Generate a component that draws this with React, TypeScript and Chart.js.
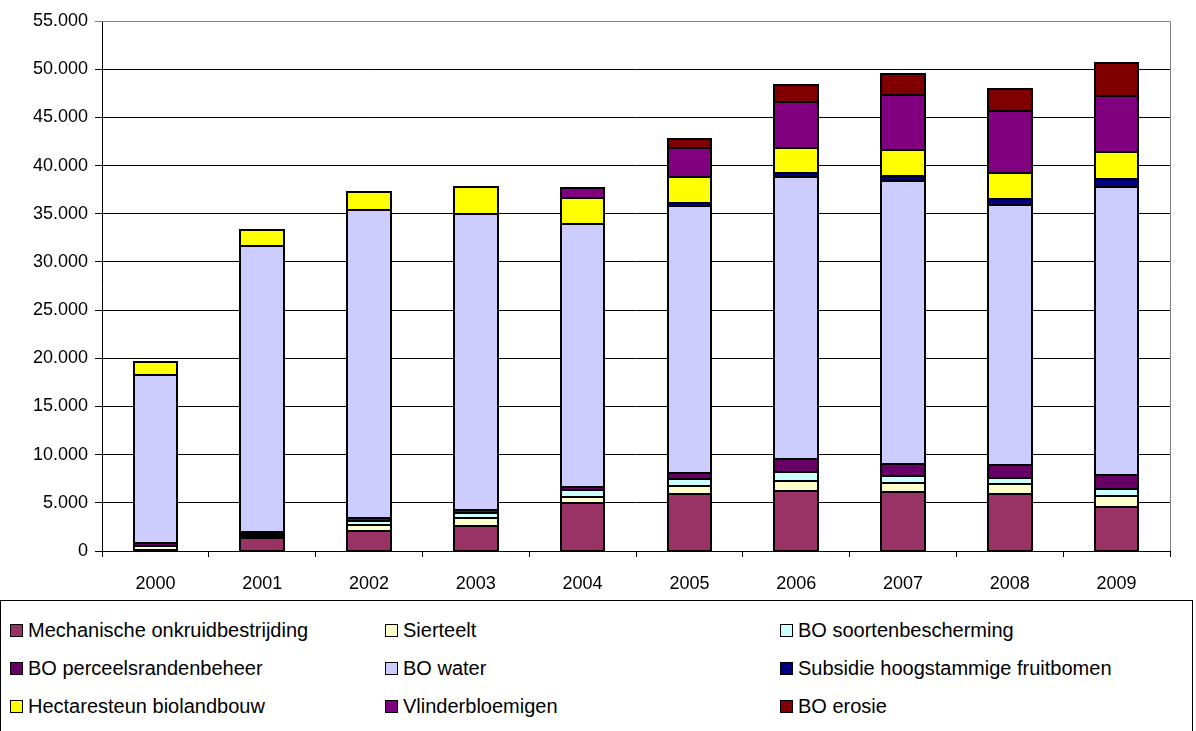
import React, { useEffect, useRef } from "react";
import { Chart, registerables } from "chart.js";

Chart.register(...registerables);

const categories = ["2000", "2001", "2002", "2003", "2004", "2005", "2006", "2007", "2008", "2009"];

const mechanisch = [150, 1300, 2070, 2630, 4950, 5920, 6230, 6090, 5920, 4600];
const sierteelt = [350, 250, 680, 830, 690, 830, 1030, 970, 1000, 1110];
const soortenbescherming = [50, 200, 360, 450, 690, 720, 970, 690, 690, 760];
const perceelsranden = [250, 250, 280, 340, 340, 620, 1280, 1280, 1310, 1450];
const boWater = [17460, 29650, 32000, 30690, 27270, 27750, 29270, 29370, 27020, 29890];
const hoogstam = [0, 0, 0, 0, 0, 310, 450, 550, 590, 790];
const biolandbouw = [1320, 1660, 1870, 2870, 2730, 2700, 2630, 2670, 2700, 2770];
const vlinderbloemigen = [0, 0, 0, 0, 1030, 2940, 4740, 5700, 6440, 5880];
const erosie = [0, 0, 0, 0, 0, 1000, 1760, 2180, 2280, 3390];

const seriesNames = [
  "Mechanische onkruidbestrijding",
  "Sierteelt",
  "BO soortenbescherming",
  "BO perceelsrandenbeheer",
  "BO water",
  "Subsidie hoogstammige fruitbomen",
  "Hectaresteun biolandbouw",
  "Vlinderbloemigen",
  "BO erosie",
];
const seriesValues = [mechanisch, sierteelt, soortenbescherming, perceelsranden, boWater, hoogstam, biolandbouw, vlinderbloemigen, erosie];
const seriesColors = ["#993366", "#FFFFCC", "#CCFFFF", "#660066", "#CCCCFF", "#000080", "#FFFF00", "#800080", "#800000"];

const yTicksMax = 55000;
const yStep = 5000;

const FONT = "'Liberation Sans', Arial, sans-serif";

function fmt(v: number): string {
  return String(v).replace(/\B(?=(\d{3})+(?!\d))/g, ".");
}

const borderPlugin = {
  id: "plotBorder",
  afterDatasetsDraw(chart: any) {
    const { ctx } = chart;
    ctx.save();
    ctx.strokeStyle = "#000000";
    ctx.lineWidth = 2;
    chart.data.datasets.forEach((_: any, di: number) => {
      const meta = chart.getDatasetMeta(di);
      meta.data.forEach((el: any) => {
        const p = el.getProps(["x", "y", "base", "width"], true);
        const l = Math.round(p.x - p.width / 2);
        const r = Math.round(p.x + p.width / 2);
        const t = Math.round(Math.min(p.y, p.base));
        const b = Math.round(Math.max(p.y, p.base));
        ctx.strokeRect(l, t, r - l, b - t);
      });
    });
    ctx.restore();
  },
  afterDraw(chart: any) {
    const { ctx, chartArea } = chart;
    ctx.save();
    ctx.strokeStyle = "#808080";
    ctx.lineWidth = 1;
    ctx.beginPath();
    ctx.moveTo(chartArea.left, chartArea.top + 0.5);
    ctx.lineTo(chartArea.right + 0.5, chartArea.top + 0.5);
    ctx.lineTo(chartArea.right + 0.5, chartArea.bottom);
    ctx.stroke();
    ctx.restore();
  },
};

export default function App() {
  const canvasRef = useRef<HTMLCanvasElement | null>(null);

  useEffect(() => {
    if (!canvasRef.current) return;
    const chart = new Chart(canvasRef.current, {
      type: "bar",
      data: {
        labels: categories,
        datasets: seriesNames.map((name, i) => ({
          label: name,
          data: seriesValues[i],
          backgroundColor: seriesColors[i],
          borderColor: "#000000",
          borderWidth: 0,
          barPercentage: 0.41,
          categoryPercentage: 1,
        })),
      },
      options: {
        responsive: false,
        animation: false,
        devicePixelRatio: 1,
        layout: { padding: { top: 21, right: 26, left: 0, bottom: 0 } },
        plugins: {
          legend: { display: false },
          tooltip: { enabled: false },
        },
        scales: {
          x: {
            stacked: true,
            grid: {
              display: true,
              drawOnChartArea: false,
              drawTicks: true,
              tickLength: 6,
              color: "#000000",
              offset: true,
            },
            border: { display: true, color: "#000000", width: 1 },
            ticks: {
              color: "#000000",
              font: { family: FONT, size: 18 },
              padding: 16,
              maxRotation: 0,
            },
            afterFit(scale: any) {
              scale.height = 49;
            },
          },
          y: {
            stacked: true,
            min: 0,
            max: yTicksMax,
            grid: {
              color: (c: any) => (c.tick && c.tick.value === yTicksMax ? "#808080" : "#000000"),
              tickLength: 7,
              lineWidth: 1,
            },
            border: { display: true, color: "#000000", width: 1 },
            ticks: {
              stepSize: yStep,
              color: "#000000",
              font: { family: FONT, size: 18 },
              padding: 7,
              callback: (v: any) => fmt(Number(v)),
            },
            afterFit(scale: any) {
              scale.width = 102;
            },
          },
        },
      },
      plugins: [borderPlugin],
    });
    return () => chart.destroy();
  }, []);

  const cols = [10, 385, 780];
  const rows = [630, 668, 706];

  return (
    <div style={{ position: "absolute", left: 0, top: 0, width: 1196, height: 731, overflow: "hidden", background: "#fff" }}>
      <canvas ref={canvasRef} width={1196} height={600} style={{ position: "absolute", left: 0, top: 0 }} />
      <div
        style={{
          position: "absolute",
          left: 0,
          top: 600,
          width: 1193,
          height: 140,
          border: "1px solid #000",
          boxSizing: "border-box",
        }}
      />
      {seriesNames.map((name, i) => {
        const c = i % 3;
        const r = Math.floor(i / 3);
        return (
          <div
            key={name}
            style={{
              position: "absolute",
              left: cols[c],
              top: rows[r] - 12,
              height: 24,
              display: "flex",
              alignItems: "center",
              fontFamily: FONT,
              fontSize: 20,
              color: "#000",
              whiteSpace: "nowrap",
            }}
          >
            <span
              style={{
                display: "inline-block",
                width: 11,
                height: 11,
                background: seriesColors[i],
                border: "1px solid #000",
                marginRight: 5,
              }}
            />
            <span>{name}</span>
          </div>
        );
      })}
    </div>
  );
}
